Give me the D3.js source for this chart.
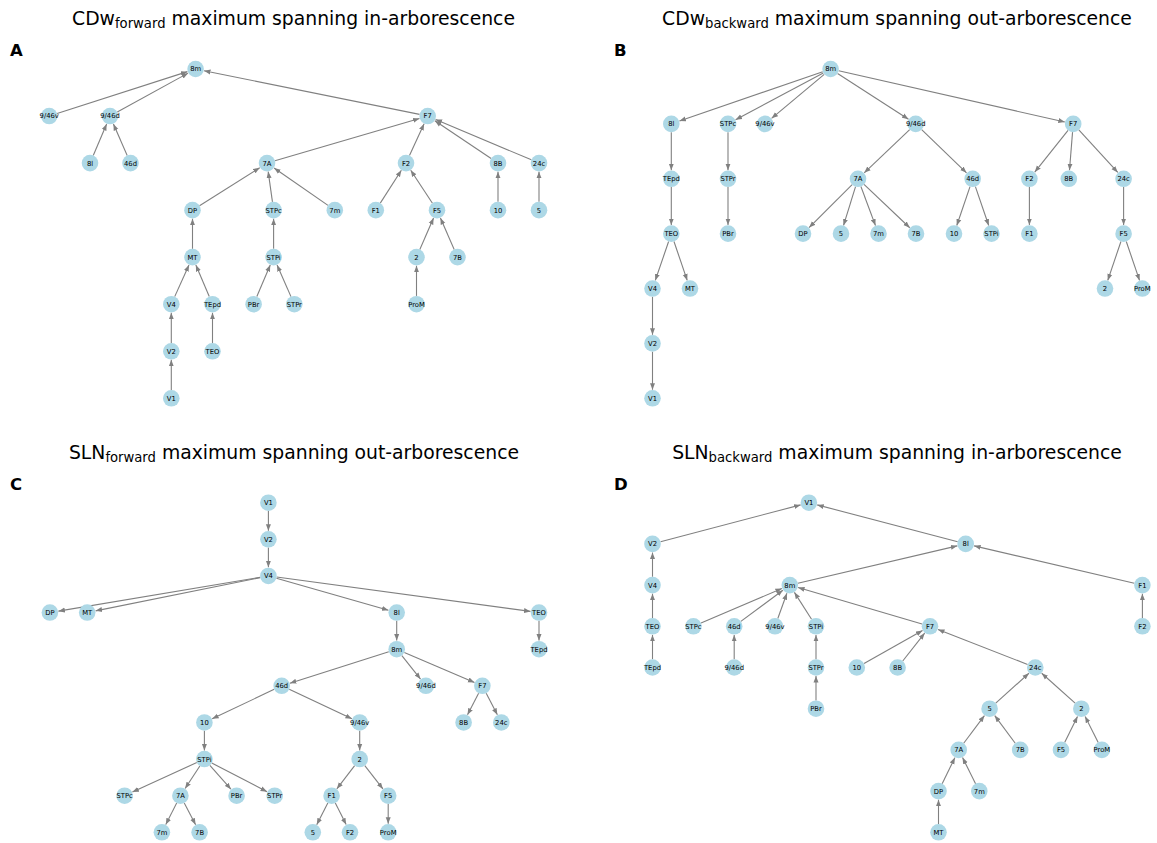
<!DOCTYPE html>
<html>
<head>
<meta charset="utf-8">
<script src="https://cdn.jsdelivr.net/npm/d3@7"></script>
<style>
  html, body { margin: 0; padding: 0; background: #fff; }
  svg { display: block; font-family: "DejaVu Sans", sans-serif; }
  text { white-space: pre; }
</style>
</head>
<body>
<svg id="fig" width="1157" height="843"></svg>
<script>
// Panel titles: [main, subscript, rest]
const titlesA = ["CDw", "forward", " maximum spanning in-arborescence"];
const titlesB = ["CDw", "backward", " maximum spanning out-arborescence"];
const titlesC = ["SLN", "forward", " maximum spanning out-arborescence"];
const titlesD = ["SLN", "backward", " maximum spanning in-arborescence"];
const panelLetters = ["A", "B", "C", "D"];

// Tree layouts: [area, layout x, rank]
const nodesA = [
  ["8m", 195.6, 0],
  ["9/46v", 49.2, 1], ["9/46d", 110, 1], ["F7", 427.7, 1],
  ["8l", 90, 2], ["46d", 130.5, 2], ["7A", 267, 2], ["F2", 406, 2], ["8B", 498, 2], ["24c", 539, 2],
  ["DP", 192.5, 3], ["STPc", 273.6, 3], ["7m", 334.8, 3], ["F1", 375.8, 3], ["F5", 437, 3], ["10", 498, 3], ["5", 539, 3],
  ["MT", 192.5, 4], ["STPi", 273.6, 4], ["2", 416.5, 4], ["7B", 457.5, 4],
  ["V4", 171.3, 5], ["TEpd", 212.5, 5], ["PBr", 253.6, 5], ["STPr", 294.3, 5], ["ProM", 416.5, 5],
  ["V2", 171.3, 6], ["TEO", 212.5, 6],
  ["V1", 171.3, 7]
];
// directed edges [source, target]
const edgesA = [
  ["9/46v", "8m"], ["9/46d", "8m"], ["F7", "8m"], ["8l", "9/46d"], ["46d", "9/46d"],
  ["7A", "F7"], ["F2", "F7"], ["8B", "F7"], ["24c", "F7"],
  ["DP", "7A"], ["STPc", "7A"], ["7m", "7A"], ["F1", "F2"], ["F5", "F2"], ["10", "8B"], ["5", "24c"],
  ["MT", "DP"], ["STPi", "STPc"], ["2", "F5"], ["7B", "F5"],
  ["V4", "MT"], ["TEpd", "MT"], ["PBr", "STPi"], ["STPr", "STPi"], ["ProM", "2"],
  ["V2", "V4"], ["TEO", "TEpd"], ["V1", "V2"]
];

const nodesB = [
  ["8m", 250.6, 0],
  ["8l", 91.3, 1], ["STPc", 148, 1], ["9/46v", 185, 1], ["9/46d", 335.7, 1], ["F7", 493.2, 1],
  ["TEpd", 91.3, 2], ["STPr", 148, 2], ["7A", 278, 2], ["46d", 392.7, 2], ["F2", 449.4, 2], ["8B", 488.8, 2], ["24c", 543.6, 2],
  ["TEO", 91.3, 3], ["PBr", 148, 3], ["DP", 223, 3], ["5", 261, 3], ["7m", 298.5, 3], ["7B", 336, 3],
  ["10", 374, 3], ["STPi", 411.5, 3], ["F1", 449.4, 3], ["F5", 543.6, 3],
  ["V4", 72.5, 4], ["MT", 110, 4], ["2", 525, 4], ["ProM", 562.3, 4],
  ["V2", 72.5, 5],
  ["V1", 72.5, 6]
];
const edgesB = [
  ["8m", "8l"], ["8m", "STPc"], ["8m", "9/46v"], ["8m", "9/46d"], ["8m", "F7"],
  ["8l", "TEpd"], ["STPc", "STPr"], ["9/46d", "7A"], ["9/46d", "46d"],
  ["F7", "F2"], ["F7", "8B"], ["F7", "24c"],
  ["TEpd", "TEO"], ["STPr", "PBr"], ["7A", "DP"], ["7A", "5"], ["7A", "7m"], ["7A", "7B"],
  ["46d", "10"], ["46d", "STPi"], ["F2", "F1"], ["24c", "F5"],
  ["TEO", "V4"], ["TEO", "MT"], ["F5", "2"], ["F5", "ProM"],
  ["V4", "V2"], ["V2", "V1"]
];

const nodesC = [
  ["V1", 268.4, 0], ["V2", 268.4, 1], ["V4", 268.4, 2],
  ["DP", 49.9, 3], ["MT", 87.2, 3], ["8l", 396.7, 3], ["TEO", 539, 3],
  ["8m", 396.7, 4], ["TEpd", 539, 4],
  ["46d", 281.7, 5], ["9/46d", 425.9, 5], ["F7", 482.4, 5],
  ["10", 204.4, 6], ["9/46v", 359.7, 6], ["8B", 463.6, 6], ["24c", 501.3, 6],
  ["STPi", 204.4, 7], ["2", 359.7, 7],
  ["STPc", 124.6, 8], ["7A", 180.4, 8], ["PBr", 236.6, 8], ["STPr", 274.7, 8], ["F1", 331.6, 8], ["F5", 388.2, 8],
  ["7m", 161.9, 9], ["7B", 199.6, 9], ["5", 312.8, 9], ["F2", 350, 9], ["ProM", 388.2, 9]
];
const edgesC = [
  ["V1", "V2"], ["V2", "V4"], ["V4", "DP"], ["V4", "MT"], ["V4", "8l"], ["V4", "TEO"],
  ["8l", "8m"], ["TEO", "TEpd"], ["8m", "46d"], ["8m", "9/46d"], ["8m", "F7"],
  ["46d", "10"], ["46d", "9/46v"], ["F7", "8B"], ["F7", "24c"],
  ["10", "STPi"], ["9/46v", "2"],
  ["STPi", "STPc"], ["STPi", "7A"], ["STPi", "PBr"], ["STPi", "STPr"], ["2", "F1"], ["2", "F5"],
  ["7A", "7m"], ["7A", "7B"], ["F1", "5"], ["F1", "F2"], ["F5", "ProM"]
];

const nodesD = [
  ["V1", 228.9, 0],
  ["V2", 72.5, 1], ["8l", 385.7, 1],
  ["V4", 72.5, 2], ["8m", 209.8, 2], ["F1", 562.4, 2],
  ["TEO", 72.5, 3], ["STPc", 113.4, 3], ["46d", 154.2, 3], ["9/46v", 195, 3], ["STPi", 236, 3], ["F7", 350, 3], ["F2", 562.4, 3],
  ["TEpd", 72.5, 4], ["9/46d", 154.2, 4], ["STPr", 236, 4], ["10", 276.8, 4], ["8B", 317.6, 4], ["24c", 455.3, 4],
  ["PBr", 236, 5], ["5", 409.6, 5], ["2", 501.3, 5],
  ["7A", 378.7, 6], ["7B", 440.2, 6], ["F5", 481, 6], ["ProM", 521.9, 6],
  ["DP", 358.5, 7], ["7m", 399.3, 7],
  ["MT", 358.5, 8]
];
const edgesD = [
  ["V2", "V1"], ["8l", "V1"], ["V4", "V2"], ["8m", "8l"], ["F1", "8l"],
  ["TEO", "V4"], ["STPc", "8m"], ["46d", "8m"], ["9/46v", "8m"], ["STPi", "8m"], ["F7", "8m"], ["F2", "F1"],
  ["TEpd", "TEO"], ["9/46d", "46d"], ["STPr", "STPi"], ["10", "F7"], ["8B", "F7"], ["24c", "F7"],
  ["PBr", "STPr"], ["5", "24c"], ["2", "24c"],
  ["7A", "5"], ["7B", "5"], ["F5", "2"], ["ProM", "2"],
  ["DP", "7A"], ["7m", "7A"], ["MT", "DP"]
];

// Figure geometry
const W = 1157, H = 843;
const panels = [
  { title: titlesA, letter: panelLetters[0], nodes: nodesA, edges: edgesA, left: 0,   width: 580, top: 69,    bottom: 398.3, maxRank: 7, titleX: 293.5, titleY: 25,    letterX: 10,  letterY: 55.5 },
  { title: titlesB, letter: panelLetters[1], nodes: nodesB, edges: edgesB, left: 580, width: 577, top: 69,    bottom: 398.3, maxRank: 6, titleX: 897,   titleY: 25,    letterX: 614, letterY: 55.5 },
  { title: titlesC, letter: panelLetters[2], nodes: nodesC, edges: edgesC, left: 0,   width: 580, top: 502.7, bottom: 832.3, maxRank: 9, titleX: 294,   titleY: 459.3, letterX: 10,  letterY: 490 },
  { title: titlesD, letter: panelLetters[3], nodes: nodesD, edges: edgesD, left: 580, width: 577, top: 502.7, bottom: 832.3, maxRank: 8, titleX: 897,   titleY: 459.3, letterX: 614, letterY: 490 }
];

const R = 8.3;            // node radius
const EDGE = "#808080";
const NODE = "#add8e6";

const svg = d3.select("#fig");
svg.append("rect").attr("width", W).attr("height", H).attr("fill", "#fff");

const defs = svg.append("defs");
defs.append("marker")
  .attr("id", "arrow")
  .attr("markerUnits", "userSpaceOnUse")
  .attr("viewBox", "0 -3 7 6")
  .attr("refX", 6.5).attr("refY", 0)
  .attr("markerWidth", 7).attr("markerHeight", 6)
  .attr("orient", "auto")
  .append("path")
  .attr("d", "M0,-2.5L6.5,0L0,2.5Z")
  .attr("fill", EDGE);

panels.forEach(p => {
  const g = svg.append("g");

  const x = d3.scaleLinear().domain([0, p.width]).range([p.left, p.left + p.width]);
  const y = d3.scaleLinear().domain([0, p.maxRank]).range([p.top, p.bottom]);

  const pos = new Map(p.nodes.map(([name, lx, rank]) => [name, { name, cx: x(lx), cy: y(rank) }]));

  // title with subscript
  const t = g.append("text")
    .attr("x", p.titleX).attr("y", p.titleY)
    .attr("text-anchor", "middle")
    .attr("font-size", 18.8)
    .attr("fill", "#000");
  t.append("tspan").text(p.title[0]);
  t.append("tspan").attr("font-size", 13.2).attr("dy", 3).text(p.title[1]);
  t.append("tspan").attr("font-size", 18.8).attr("dy", -3).text(p.title[2]);

  // panel letter
  g.append("text")
    .attr("x", p.letterX).attr("y", p.letterY)
    .attr("font-size", 16.5).attr("font-weight", "bold")
    .attr("fill", "#000")
    .text(p.letter);

  // edges, trimmed to the node circles
  g.append("g").selectAll("line")
    .data(p.edges)
    .join("line")
    .each(function ([s, tg]) {
      const a = pos.get(s), b = pos.get(tg);
      const dx = b.cx - a.cx, dy = b.cy - a.cy;
      const len = Math.hypot(dx, dy);
      const ux = dx / len, uy = dy / len;
      d3.select(this)
        .attr("x1", a.cx + ux * R).attr("y1", a.cy + uy * R)
        .attr("x2", b.cx - ux * (R + 0.3)).attr("y2", b.cy - uy * (R + 0.3));
    })
    .attr("stroke", EDGE)
    .attr("stroke-width", 1.1)
    .attr("marker-end", "url(#arrow)");

  // nodes
  const ng = g.append("g").selectAll("g")
    .data(Array.from(pos.values()))
    .join("g")
    .attr("transform", d => `translate(${d.cx},${d.cy})`);
  ng.append("circle").attr("r", R).attr("fill", NODE);
  ng.append("text")
    .attr("text-anchor", "middle")
    .attr("dy", "0.36em")
    .attr("font-size", 6.8)
    .attr("fill", "#000")
    .text(d => d.name);
});
</script>
</body>
</html>
